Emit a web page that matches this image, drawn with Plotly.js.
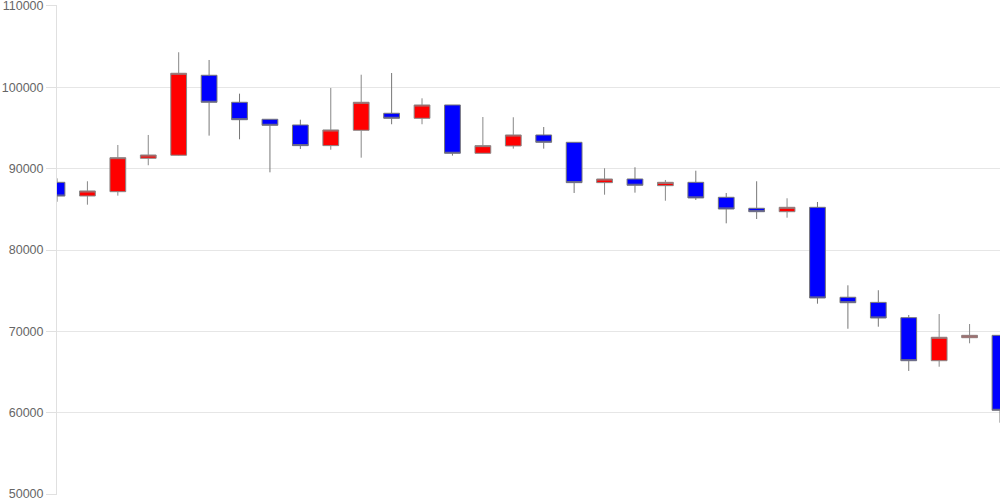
<!DOCTYPE html>
<html>
<head>
<meta charset="utf-8">
<script src="https://cdn.plot.ly/plotly-3.0.1.min.js"></script>
<style>html,body{margin:0;padding:0;background:#fff;}#chart{width:1000px;height:500px;}</style>
</head>
<body>
<div id="chart"></div>
<script>
var sessions = [0,1,2,3,4,5,6,7,8,9,10,11,12,13,14,15,16,17,18,19,20,21,22,23,24,25,26,27,28,29,30,31];
var openVals  = [88320,86640,87170,91280,91650,101480,98160,96070,95370,92830,94720,96810,96190,97830,91890,92790,94140,93240,88280,88730,87910,88320,86480,85130,84710,85250,74190,73560,71680,66390,69220,69510];
var highVals  = [88810,88450,92910,94140,104310,103360,99220,96100,96020,99920,101550,101760,98650,97830,96350,96320,95120,93240,90050,90170,88610,89750,87010,88450,86360,85900,75660,75050,72010,72130,70900,69510];
var lowVals   = [85930,85570,86680,90420,91600,94060,93610,89550,92420,92330,91350,95460,95460,91600,91890,92460,92460,87010,86800,87050,86060,86150,83280,83810,83970,73400,70320,70570,65130,65650,68530,58770];
var closeVals = [86630,87260,91350,91680,101730,98160,96020,95330,92830,94760,98160,96190,97830,91890,92830,94140,93240,88280,88730,87960,88320,86400,85040,84710,85250,74100,73520,71640,66390,69270,69510,60290];
var yTicks = [50000,60000,70000,80000,90000,100000,110000];

var trace = {
  type: 'candlestick',
  x: sessions,
  open: openVals,
  high: highVals,
  low: lowVals,
  close: closeVals,
  increasing: {fillcolor: '#ff0000', line: {color: '#888888', width: 1}},
  decreasing: {fillcolor: '#0000ff', line: {color: '#777777', width: 1}},
  whiskerwidth: 0,
  hoverinfo: 'none'
};

var layout = {
  width: 1000, height: 500,
  margin: {l: 57, r: 0, t: 5, b: 5, pad: 0},
  paper_bgcolor: '#ffffff',
  plot_bgcolor: '#ffffff',
  showlegend: false,
  boxgap: 0.26,
  xaxis: {
    range: [0, 31],
    showticklabels: false,
    showgrid: false,
    zeroline: false,
    showline: false,
    ticks: '',
    rangeslider: {visible: false},
    fixedrange: true
  },
  yaxis: {
    range: [49880, 110120],
    tickvals: yTicks,
    ticktext: yTicks.map(String),
    ticklabeloverflow: 'allow',
    showgrid: true,
    gridcolor: '#e6e6e6',
    gridwidth: 1,
    zeroline: false,
    showline: true,
    linecolor: '#e0e0e0',
    linewidth: 1,
    ticks: 'outside',
    ticklen: 10,
    tickcolor: '#e0e0e0',
    tickfont: {family: 'Liberation Sans, Arial, sans-serif', size: 12.5, color: '#666666'},
    fixedrange: true
  }
};

Plotly.newPlot('chart', [trace], layout, {staticPlot: true, displayModeBar: false});
</script>
</body>
</html>
